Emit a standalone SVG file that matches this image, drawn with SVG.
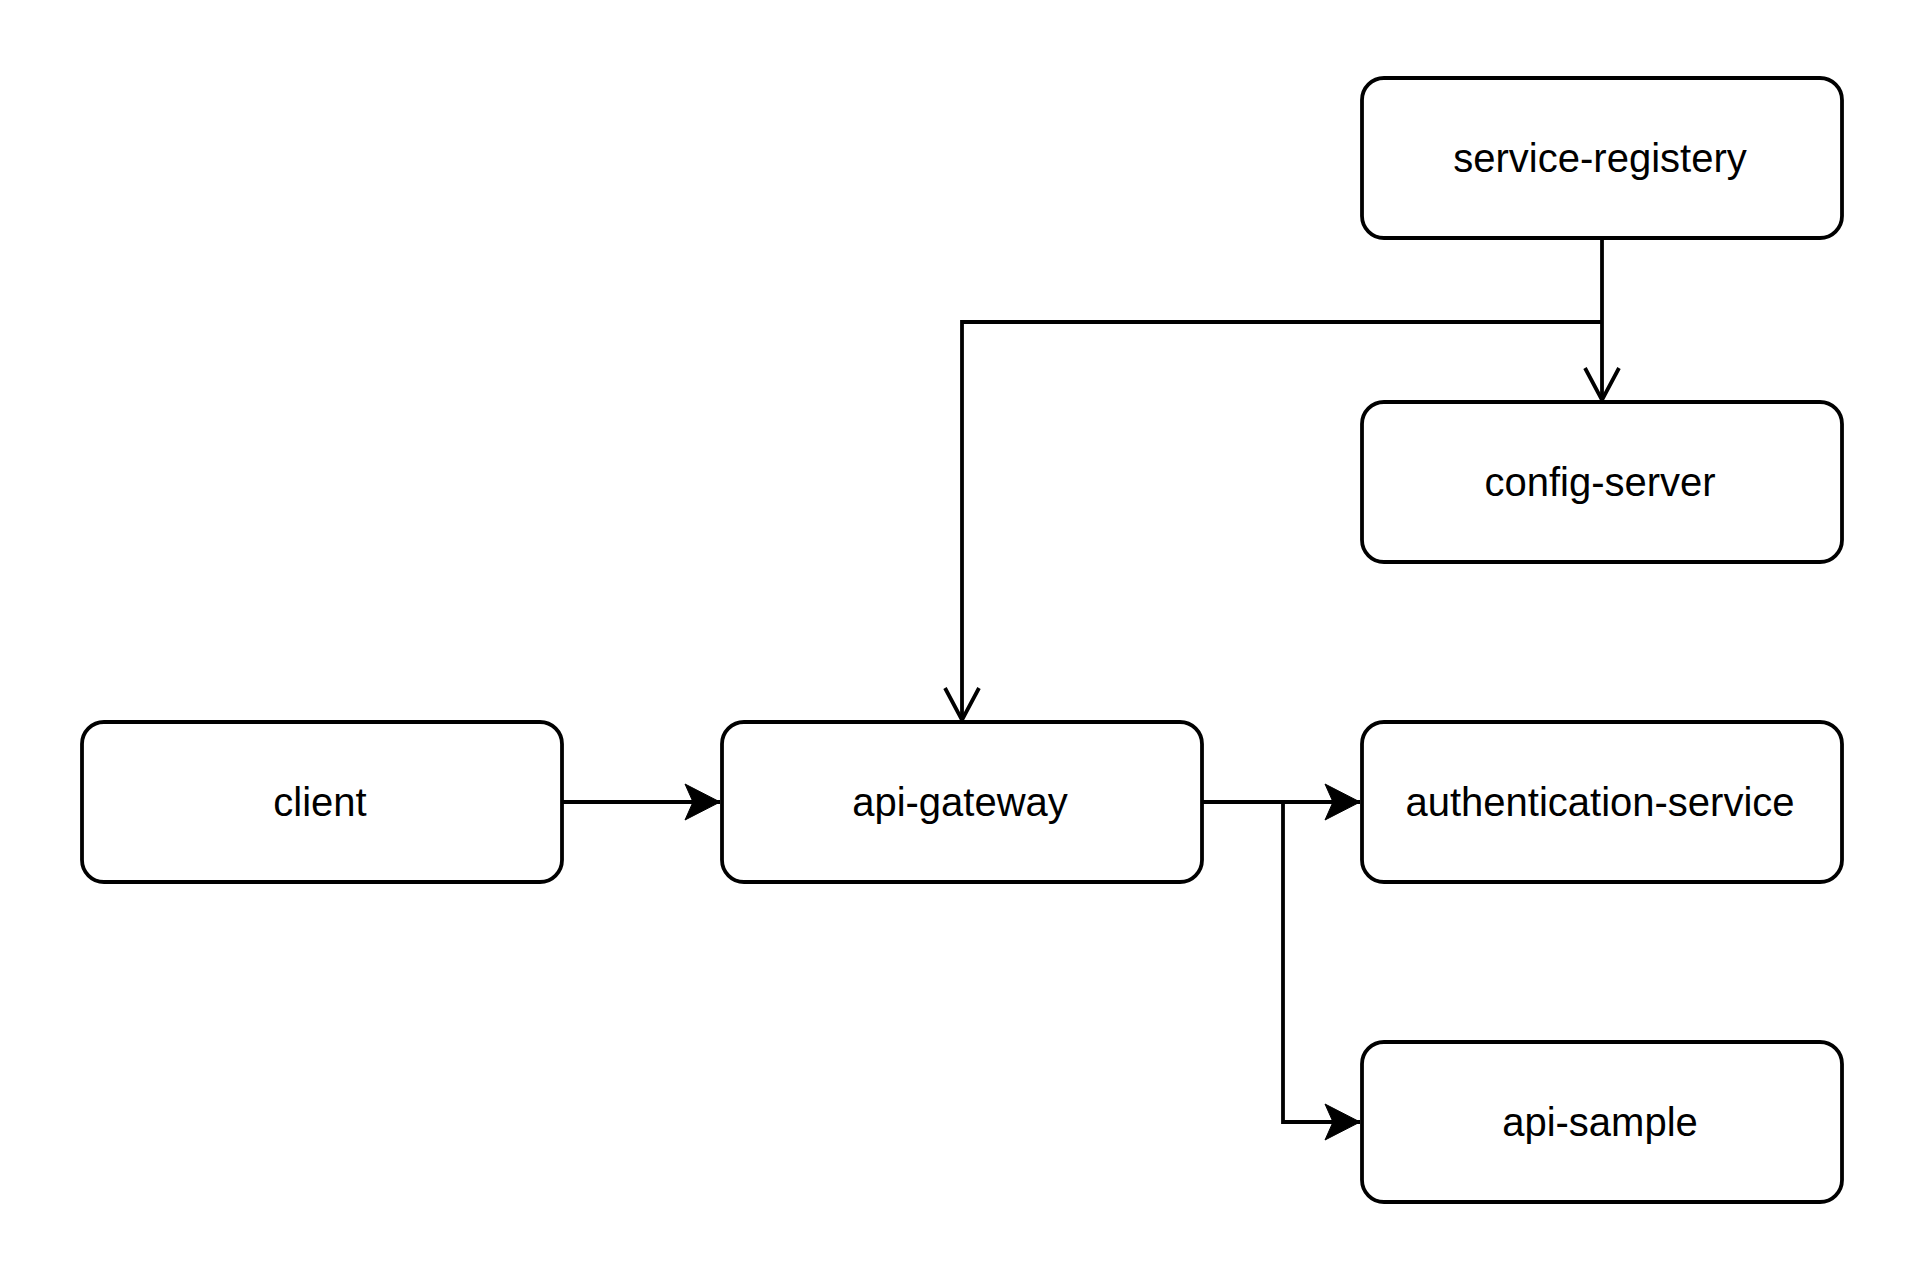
<svg xmlns="http://www.w3.org/2000/svg" width="1924" height="1288" viewBox="0 0 1924 1288">
  <style>
    .box { fill: #ffffff; stroke: #000000; stroke-width: 3.8; }
    .lbl { font-family: "Liberation Sans", Arial, sans-serif; font-size: 40px; fill: #000000; text-anchor: middle; }
    .edge { fill: none; stroke: #000000; stroke-width: 3.8; }
  </style>
  <defs>
    <marker id="block" markerUnits="userSpaceOnUse" markerWidth="40" markerHeight="40" viewBox="0 0 40 40" refX="36" refY="20" orient="auto">
      <path d="M1,2 L36,20 L1,38 L9,20 Z" fill="#000000" stroke="#000000" stroke-width="1"/>
    </marker>
    <marker id="open" markerUnits="userSpaceOnUse" markerWidth="40" markerHeight="40" viewBox="0 0 40 40" refX="34" refY="20" orient="auto">
      <path d="M2,3 L34,20 L2,37" fill="none" stroke="#000000" stroke-width="3.8"/>
    </marker>
  </defs>
  <rect width="1924" height="1288" fill="#ffffff"/>
  <g id="connectors">
    <path class="edge" d="M1602,238 L1602,400" marker-end="url(#open)"/>
    <path class="edge" d="M1602,322 L962,322 L962,720" marker-end="url(#open)"/>
    <path class="edge" d="M562,802 L720,802" marker-end="url(#block)"/>
    <path class="edge" d="M1202,802 L1360,802" marker-end="url(#block)"/>
    <path class="edge" d="M1283,802 L1283,1122 L1360,1122" marker-end="url(#block)"/>
  </g>
  <g id="service-registery">
    <rect class="box" x="1362" y="78" width="480" height="160" rx="22" ry="22"/>
    <text class="lbl" x="1600" y="172">service-registery</text>
  </g>
  <g id="config-server">
    <rect class="box" x="1362" y="402" width="480" height="160" rx="22" ry="22"/>
    <text class="lbl" x="1600" y="496">config-server</text>
  </g>
  <g id="client">
    <rect class="box" x="82" y="722" width="480" height="160" rx="22" ry="22"/>
    <text class="lbl" x="320" y="816">client</text>
  </g>
  <g id="api-gateway">
    <rect class="box" x="722" y="722" width="480" height="160" rx="22" ry="22"/>
    <text class="lbl" x="960" y="816">api-gateway</text>
  </g>
  <g id="authentication-service">
    <rect class="box" x="1362" y="722" width="480" height="160" rx="22" ry="22"/>
    <text class="lbl" x="1600" y="816">authentication-service</text>
  </g>
  <g id="api-sample">
    <rect class="box" x="1362" y="1042" width="480" height="160" rx="22" ry="22"/>
    <text class="lbl" x="1600" y="1136">api-sample</text>
  </g>
</svg>
